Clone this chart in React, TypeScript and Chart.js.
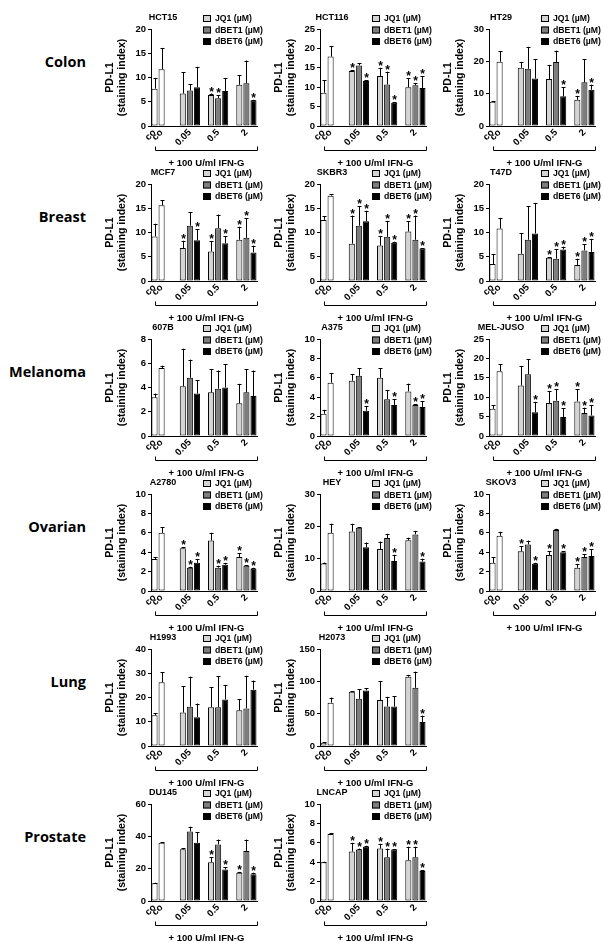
import React, { useEffect, useRef } from 'react';
import { Chart, registerables } from 'chart.js';

Chart.register(...registerables);

// ---------------- data ----------------
const TISSUES = ['Colon', 'Breast', 'Melanoma', 'Ovarian', 'Lung', 'Prostate'];
const CELL_LINES = ['HCT15', 'HCT116', 'HT29', 'MCF7', 'SKBR3', 'T47D', '607B', 'A375', 'MEL-JUSO', 'A2780', 'HEY', 'SKOV3', 'H1993', 'H2073', 'DU145', 'LNCAP'];
const PANEL_ROW = [0, 0, 0, 1, 1, 1, 2, 2, 2, 3, 3, 3, 4, 4, 5, 5];
const Y_MAX = [20, 25, 30, 20, 20, 20, 8, 10, 25, 10, 30, 10, 40, 150, 60, 10];
const Y_STEP = [5, 5, 10, 5, 5, 5, 2, 2, 5, 2, 10, 2, 10, 50, 20, 2];
const DOSES = ['0.05', '0.5', '2'];
const CONTROL_LABELS = ['co', 'co'];
const SERIES_NAMES = ['JQ1 (µM)', 'dBET1 (µM)', 'dBET6 (µM)'];
const Y_TITLE = ['PD-L1', '(staining index)'];
const BRACKET_TEXT = '+ 100 U/ml IFN-G';

const CO_MEAN = [[7.7, 11.7], [8.6, 17.9], [7.5, 19.9], [9.2, 15.6], [12.6, 17.6], [3.5, 10.8], [3.2, 5.6], [2.3, 5.5], [7.0, 16.7], [3.3, 6.0], [8.5, 18.0], [2.9, 5.7], [12.7, 26.3], [5, 67], [11, 36], [4.0, 6.9]];
const CO_ERR = [[2.2, 4.4], [3.2, 2.6], [0.2, 3.3], [2.6, 1.0], [0.7, 0.3], [2.0, 2.2], [0.3, 0.2], [0.4, 1.0], [1.0, 1.8], [0.2, 0.6], [0.3, 2.8], [0.6, 0.4], [0.8, 4.2], [1, 8], [0.3, 0.5], [0.05, 0.1]];

const JQ1_MEAN = [[6.7, 6.4, 8.5], [14.2, 12.9, 10.0], [18.0, 14.5, 8.1], [6.8, 6.1, 8.5], [7.7, 7.3, 10.2], [5.6, 4.8, 3.3], [4.1, 3.6, 2.7], [5.7, 6.0, 4.6], [13.0, 8.5, 8.9], [4.4, 5.2, 3.5], [18.4, 13.0, 15.7], [4.1, 3.7, 2.4], [13.8, 16.0, 14.7], [84, 71, 107], [32, 24, 17.5], [5.1, 5.4, 4.2]];
const JQ1_ERR = [[4.4, 0.3, 2.0], [0.2, 2.1, 2.3], [1.8, 4.4, 1.2], [1.5, 2.1, 2.7], [5.8, 2.0, 2.1], [4.3, 0.1, 1.3], [3.1, 1.9, 1.6], [0.7, 1.0, 0.8], [5.0, 3.1, 3.1], [0.1, 0.8, 0.4], [2.4, 2.3, 0.8], [0.5, 0.4, 0.4], [10.8, 8.2, 4.7], [1, 29, 3], [0.5, 3, 0.5], [0.9, 0.5, 1.4]];
const JQ1_SIG = [[0, 1, 0], [1, 1, 1], [0, 0, 1], [1, 1, 1], [1, 1, 1], [0, 1, 1], [0, 0, 0], [0, 0, 0], [0, 1, 1], [1, 0, 1], [0, 0, 0], [1, 1, 1], [0, 0, 0], [0, 0, 0], [0, 1, 1], [1, 1, 1]];

const DBET1_MEAN = [[7.3, 5.7, 8.8], [15.6, 10.7, 10.5], [17.7, 19.8, 13.5], [11.4, 10.9, 8.9], [11.4, 9.1, 8.5], [8.5, 4.6, 6.3], [4.8, 3.9, 3.6], [6.2, 3.8, 3.2], [15.9, 9.1, 5.9], [2.4, 2.4, 2.6], [19.6, 16.4, 17.5], [4.8, 6.3, 3.5], [16.2, 16.0, 15.5], [73, 61, 90], [43, 35, 31], [5.3, 4.5, 4.5]];
const DBET1_ERR = [[1.3, 0.7, 4.7], [0.6, 3.3, 0.6], [6.8, 3.5, 7.1], [2.8, 2.8, 4.0], [4.0, 3.3, 5.0], [6.9, 2.0, 1.3], [1.5, 1.5, 1.9], [0.8, 0.9, 0.1], [3.9, 2.9, 1.4], [0.1, 0.2, 0.05], [0.2, 1.3, 1.1], [0.4, 0.1, 0.3], [12.4, 12.8, 13.5], [15, 15, 25], [3, 3, 7], [0.1, 0.9, 1.1]];
const DBET1_SIG = [[0, 1, 0], [0, 1, 1], [0, 0, 0], [0, 0, 1], [1, 1, 1], [0, 1, 1], [0, 0, 0], [0, 0, 1], [0, 1, 1], [1, 1, 1], [0, 0, 0], [0, 0, 1], [0, 0, 0], [0, 0, 0], [0, 0, 0], [1, 1, 1]];

const DBET6_MEAN = [[8.0, 7.2, 5.3], [11.6, 6.0, 9.8], [14.7, 9.2, 11.2], [8.4, 7.8, 5.9], [12.3, 7.9, 6.7], [9.8, 6.5, 6.0], [3.5, 4.0, 3.3], [2.6, 3.2, 3.0], [6.1, 4.9, 5.3], [2.9, 2.7, 2.3], [13.5, 9.3, 9.1], [2.8, 4.0, 3.6], [11.9, 19.2, 23.2], [86, 61, 37], [36, 19.5, 16.5], [5.6, 5.3, 3.1]];
const DBET6_ERR = [[4.2, 2.7, 0.1], [0.2, 0.2, 3.0], [5.9, 2.8, 1.6], [2.3, 1.4, 1.4], [2.2, 0.2, 0.1], [6.3, 0.6, 2.7], [1.1, 1.9, 2.1], [0.5, 0.6, 0.6], [2.7, 2.3, 2.6], [0.4, 0.2, 0.1], [1.5, 1.9, 0.9], [0.1, 0.1, 0.7], [5.6, 6.0, 3.8], [3, 16, 10], [6.5, 1.5, 1], [0.1, 0.05, 0.1]];
const DBET6_SIG = [[0, 0, 1], [1, 1, 1], [0, 1, 1], [1, 1, 1], [1, 1, 1], [0, 1, 1], [0, 0, 0], [1, 1, 1], [1, 1, 1], [1, 1, 1], [0, 1, 1], [1, 1, 1], [0, 0, 0], [0, 0, 1], [0, 1, 1], [1, 1, 1]];

// ---------------- style / layout ----------------
const FONT = 'Arial, "Liberation Sans", Helvetica, sans-serif';
const COLORS = { ctrl: '#ffffff', jq1: '#d4d4d4', dbet1: '#7d7d7d', dbet6: '#000000' };
const COL_AXIS_X = [151, 320, 489];
const ROW_TOP = 18;
const ROW_PITCH = 155;
const CANVAS_W = 172;
const CANVAS_H = 162;
const AXIS_W = 50;
const PLOT_W = 106;
const N_SLOTS = 15;

function slotLabels(): string[] {
  const labels = new Array(N_SLOTS).fill('');
  labels[0] = CONTROL_LABELS[0];
  labels[1] = CONTROL_LABELS[1];
  DOSES.forEach((d, i) => { labels[5 + i * 4] = d; });
  return labels;
}

function buildDatasets(p: number) {
  const mk = () => new Array(N_SLOTS).fill(null);
  const ctrl = mk(), ctrlE = mk(), ctrlS = mk();
  const j = mk(), jE = mk(), jS = mk();
  const b1 = mk(), b1E = mk(), b1S = mk();
  const b6 = mk(), b6E = mk(), b6S = mk();
  for (let k = 0; k < 2; k++) { ctrl[k] = CO_MEAN[p][k]; ctrlE[k] = CO_ERR[p][k]; ctrlS[k] = 0; }
  for (let d = 0; d < 3; d++) {
    const base = 4 + d * 4;
    j[base] = JQ1_MEAN[p][d]; jE[base] = JQ1_ERR[p][d]; jS[base] = JQ1_SIG[p][d];
    b1[base + 1] = DBET1_MEAN[p][d]; b1E[base + 1] = DBET1_ERR[p][d]; b1S[base + 1] = DBET1_SIG[p][d];
    b6[base + 2] = DBET6_MEAN[p][d]; b6E[base + 2] = DBET6_ERR[p][d]; b6S[base + 2] = DBET6_SIG[p][d];
  }
  const common = { borderColor: '#000', borderWidth: 1, barPercentage: 0.86, categoryPercentage: 1, grouped: false, borderSkipped: false };
  return [
    { label: 'co', data: ctrl, errors: ctrlE, sig: ctrlS, backgroundColor: COLORS.ctrl, ...common },
    { label: SERIES_NAMES[0], data: j, errors: jE, sig: jS, backgroundColor: COLORS.jq1, ...common },
    { label: SERIES_NAMES[1], data: b1, errors: b1E, sig: b1S, backgroundColor: COLORS.dbet1, ...common },
    { label: SERIES_NAMES[2], data: b6, errors: b6E, sig: b6S, backgroundColor: COLORS.dbet6, ...common },
  ];
}

const decorPlugin = {
  id: 'panelDecor',
  afterDatasetsDraw(chart: any) {
    const ctx = chart.ctx;
    const ys = chart.scales.y;
    chart.data.datasets.forEach((ds: any, di: number) => {
      const meta = chart.getDatasetMeta(di);
      meta.data.forEach((bar: any, i: number) => {
        const v = ds.data[i];
        if (v == null) return;
        const e = ds.errors[i] || 0;
        const top = ys.getPixelForValue(v + e);
        const x = Math.round(bar.x) + 0.5;
        ctx.save();
        ctx.strokeStyle = '#000';
        ctx.lineWidth = 1;
        ctx.beginPath();
        ctx.moveTo(x, bar.y);
        ctx.lineTo(x, top);
        ctx.moveTo(x - 2, Math.round(top) + 0.5);
        ctx.lineTo(x + 2, Math.round(top) + 0.5);
        ctx.stroke();
        if (ds.sig[i]) {
          ctx.fillStyle = '#000';
          ctx.font = `bold 12px ${FONT}`;
          ctx.textAlign = 'center';
          ctx.textBaseline = 'alphabetic';
          ctx.fillText('*', x, top + 2);
        }
        ctx.restore();
      });
    });
  },
  afterDraw(chart: any, _args: any, opts: any) {
    const ctx = chart.ctx;
    const area = chart.chartArea;
    const xs = chart.scales.x;
    const L = area.left;
    const t0 = area.top - 11;
    ctx.save();
    ctx.fillStyle = '#000';
    // title (centred a little right of the y axis)
    ctx.font = `bold 9px ${FONT}`;
    ctx.textAlign = 'center';
    ctx.textBaseline = 'middle';
    ctx.fillText(opts.title, L + 12, t0);
    // legend
    const fills = [COLORS.jq1, COLORS.dbet1, COLORS.dbet6];
    ctx.textAlign = 'left';
    ctx.font = `bold 8.7px ${FONT}`;
    SERIES_NAMES.forEach((name, r) => {
      const yc = t0 + r * 11.5;
      ctx.fillStyle = fills[r];
      ctx.fillRect(L + 52, yc - 3, 8, 7);
      ctx.strokeStyle = '#000';
      ctx.lineWidth = 1;
      ctx.strokeRect(L + 52.5, yc - 2.5, 7, 6);
      ctx.fillStyle = '#000';
      ctx.fillText(name, L + 64, yc + 1);
    });
    // bracket
    const by = Math.round(area.bottom + 24) + 0.5;
    const x0 = Math.round(xs.getPixelForValue(0)) + 0.5;
    const x1 = Math.round(area.right) + 0.5;
    ctx.strokeStyle = '#000';
    ctx.lineWidth = 1;
    ctx.beginPath();
    ctx.moveTo(x0, by - 4);
    ctx.lineTo(x0, by);
    ctx.lineTo(x1, by);
    ctx.lineTo(x1, by - 4);
    ctx.stroke();
    ctx.font = `bold 9.5px ${FONT}`;
    ctx.textAlign = 'center';
    ctx.fillText(BRACKET_TEXT, (x0 + x1) / 2, area.bottom + 37);
    ctx.restore();
  },
};

function Panel({ index }: { index: number }) {
  const ref = useRef<HTMLCanvasElement>(null);
  const row = PANEL_ROW[index];
  const col = PANEL_ROW.slice(0, index).filter((r) => r === row).length;
  const left = COL_AXIS_X[col] - AXIS_W;
  const top = ROW_TOP + row * ROW_PITCH - 12;

  useEffect(() => {
    if (!ref.current) return;
    const chart = new Chart(ref.current, {
      type: 'bar',
      data: { labels: slotLabels(), datasets: buildDatasets(index) as any },
      plugins: [decorPlugin],
      options: {
        animation: false,
        responsive: false,
        maintainAspectRatio: false,
        devicePixelRatio: 1,
        layout: { padding: { top: 23, right: CANVAS_W - AXIS_W - PLOT_W, bottom: 0, left: 0 } },
        plugins: {
          legend: { display: false },
          tooltip: { enabled: false },
          panelDecor: { title: CELL_LINES[index] },
        } as any,
        scales: {
          x: {
            type: 'category',
            offset: true,
            grid: { display: false, drawTicks: false },
            border: { display: true, color: '#000', width: 1 },
            ticks: {
              autoSkip: false,
              maxRotation: 45,
              minRotation: 45,
              padding: 1,
              color: '#000',
              font: { family: FONT, size: 9.5, weight: 'bold' },
            },
            afterFit: (s: any) => { s.height = CANVAS_H - 23 - 97; },
          },
          y: {
            min: 0,
            max: Y_MAX[index],
            ticks: {
              stepSize: Y_STEP[index],
              padding: 2,
              color: '#000',
              font: { family: FONT, size: 9.5, weight: 'bold' },
            },
            grid: { display: true, drawOnChartArea: false, drawTicks: true, tickLength: 3, color: '#000' },
            border: { display: true, color: '#000', width: 1 },
            title: {
              display: true,
              text: Y_TITLE,
              color: '#000',
              padding: { top: 3, bottom: 0 },
              font: { family: FONT, size: 10.5, weight: 'bold', lineHeight: 1.15 },
            },
            afterFit: (s: any) => { s.width = AXIS_W; },
          },
        },
      } as any,
    });
    return () => chart.destroy();
  }, [index]);

  return (
    <canvas
      ref={ref}
      width={CANVAS_W}
      height={CANVAS_H}
      style={{ position: 'absolute', left, top, width: CANVAS_W, height: CANVAS_H }}
    />
  );
}

export default function App() {
  return (
    <div style={{ position: 'absolute', left: 0, top: 0, width: 604, height: 942, background: '#fff', overflow: 'hidden' }}>
      {TISSUES.map((t, r) => (
        <div
          key={t}
          style={{
            position: 'absolute',
            right: 604 - 86,
            top: ROW_TOP + r * ROW_PITCH + 44,
            transform: 'translateY(-50%)',
            fontFamily: '"Open Sans", sans-serif',
            fontWeight: 700,
            fontSize: 14.5,
            lineHeight: 1,
            color: '#000',
            whiteSpace: 'nowrap',
          }}
        >
          {t}
        </div>
      ))}
      {CELL_LINES.map((_, i) => (
        <Panel key={i} index={i} />
      ))}
    </div>
  );
}
